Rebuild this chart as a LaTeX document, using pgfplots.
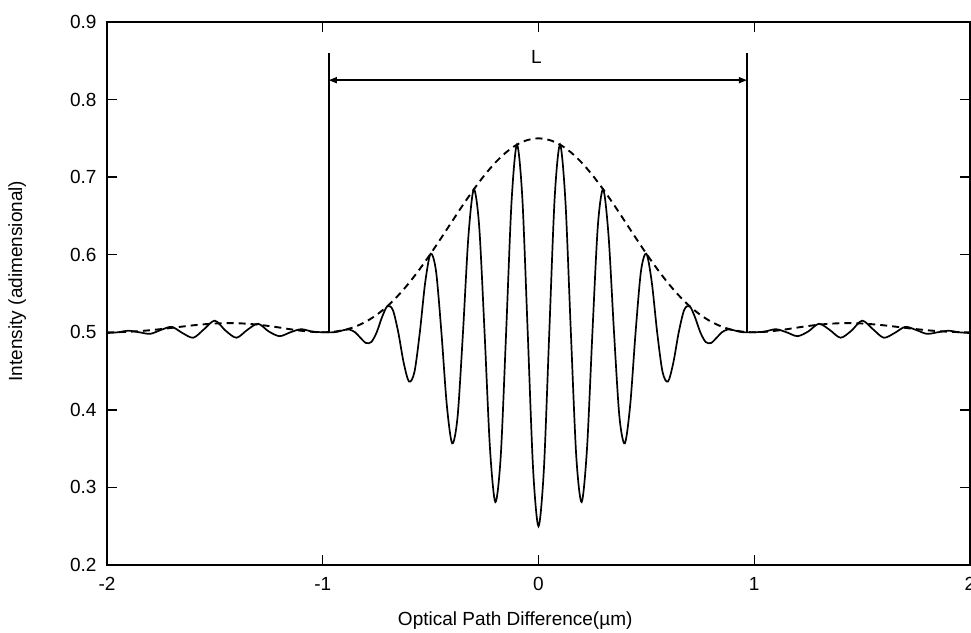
\documentclass[border=0pt]{standalone}
\usepackage{fontspec}
\setmainfont{Liberation Sans}
\usepackage{pgfplots}
\pgfplotsset{compat=1.18}
\usetikzlibrary{arrows.meta}
\begin{document}
\begin{tikzpicture}
\begin{axis}[name=ax, scale only axis, width=863pt, height=543pt,
  xmin=-2, xmax=2, ymin=0.2, ymax=0.9,
  xtick={-2,-1,0,1,2},
  ytick={0.2,0.3,0.4,0.5,0.6,0.7,0.8,0.9},
  tick align=inside, major tick length=10pt,
  axis line style={line width=1.5pt},
  every tick/.style={black, line width=1.3pt},
  /pgf/number format/assume math mode=true,
  yticklabel style={/pgf/number format/fixed, /pgf/number format/fixed zerofill, /pgf/number format/precision=1, xshift=-7pt},
  xticklabel style={yshift=-9pt},
  tick label style={font=\fontsize{19}{22}\selectfont},
  label style={font=\fontsize{19}{22}\selectfont},
  xlabel={Optical Path Difference(µm)},
  ylabel={Intensity (adimensional)},
  xlabel style={at={(axis description cs:0.473,-0.103)}, anchor=center},
  ylabel style={at={(axis description cs:-0.104,0.523)}, anchor=center},
  clip=false,
]
\addplot[black, line width=1.7pt, smooth] coordinates {
(-2.0,0.499)(-1.95,0.500)(-1.9,0.502)(-1.85,0.500)(-1.8,0.498)(-1.75,0.503)(-1.7,0.507)(-1.65,0.499)(-1.6,0.493)(-1.55,0.504)(-1.5,0.515)(-1.45,0.502)(-1.4,0.493)(-1.35,0.503)(-1.3,0.511)(-1.25,0.501)(-1.2,0.495)(-1.15,0.500)(-1.1,0.504)(-1.05,0.501)
(-1.0,0.5)(-0.975,0.4999)(-0.95,0.5)(-0.925,0.5011)(-0.9,0.503)(-0.875,0.5034)(-0.85,0.5)(-0.825,0.4928)(-0.8,0.4863)(-0.775,0.4874)(-0.75,0.5)(-0.725,0.5197)(-0.7,0.5338)(-0.675,0.5286)(-0.65,0.5)(-0.625,0.4609)(-0.6,0.4364)(-0.575,0.4488)(-0.55,0.5)(-0.525,0.5646)(-0.5,0.6013)(-0.475,0.5789)(-0.45,0.5)(-0.425,0.4062)(-0.4,0.3568)(-0.375,0.3913)(-0.35,0.5)(-0.325,0.6233)(-0.3,0.6842)(-0.275,0.6369)(-0.25,0.5)(-0.225,0.3508)(-0.2,0.2812)(-0.175,0.3403)(-0.15,0.5)(-0.125,0.6679)(-0.1,0.7419)(-0.075,0.6735)(-0.05,0.5)(-0.025,0.3236)
(0,0.25)
(0.025,0.3236)(0.05,0.5)(0.075,0.6735)(0.1,0.7419)(0.125,0.6679)(0.15,0.5)(0.175,0.3403)(0.2,0.2812)(0.225,0.3508)(0.25,0.5)(0.275,0.6369)(0.3,0.6842)(0.325,0.6233)(0.35,0.5)(0.375,0.3913)(0.4,0.3568)(0.425,0.4062)(0.45,0.5)(0.475,0.5789)(0.5,0.6013)(0.525,0.5646)(0.55,0.5)(0.575,0.4488)(0.6,0.4364)(0.625,0.4609)(0.65,0.5)(0.675,0.5286)(0.7,0.5338)(0.725,0.5197)(0.75,0.5)(0.775,0.4874)(0.8,0.4863)(0.825,0.4928)(0.85,0.5)(0.875,0.5034)(0.9,0.503)(0.925,0.5011)(0.95,0.5)(0.975,0.4999)(1.0,0.5)
(1.05,0.501)(1.1,0.504)(1.15,0.500)(1.2,0.495)(1.25,0.501)(1.3,0.511)(1.35,0.503)(1.4,0.493)(1.45,0.502)(1.5,0.515)(1.55,0.504)(1.6,0.493)(1.65,0.499)(1.7,0.507)(1.75,0.503)(1.8,0.498)(1.85,0.500)(1.9,0.502)(1.95,0.500)(2.0,0.499)
};
\addplot[black, line width=1.9pt, smooth, dash pattern=on 7pt off 5pt] coordinates {
(-2,0.5)(-1.95,0.5002)(-1.9,0.5007)(-1.85,0.5015)(-1.8,0.5027)(-1.75,0.5041)(-1.7,0.5057)(-1.65,0.5074)(-1.6,0.509)(-1.55,0.5103)(-1.5,0.5113)(-1.45,0.5118)(-1.4,0.5117)(-1.35,0.511)(-1.3,0.5098)(-1.25,0.5081)(-1.2,0.5061)(-1.15,0.5039)(-1.1,0.502)(-1.05,0.5006)(-1,0.5)(-0.95,0.5007)(-0.9,0.503)(-0.85,0.5072)(-0.8,0.5137)(-0.75,0.5225)(-0.7,0.5338)(-0.65,0.5476)(-0.6,0.5636)(-0.55,0.5817)(-0.5,0.6013)(-0.45,0.622)(-0.4,0.6432)(-0.35,0.6642)(-0.3,0.6842)(-0.25,0.7026)(-0.2,0.7188)(-0.15,0.732)(-0.1,0.7419)(-0.05,0.7479)(0,0.75)
(0.05,0.7479)(0.1,0.7419)(0.15,0.732)(0.2,0.7188)(0.25,0.7026)(0.3,0.6842)(0.35,0.6642)(0.4,0.6432)(0.45,0.622)(0.5,0.6013)(0.55,0.5817)(0.6,0.5636)(0.65,0.5476)(0.7,0.5338)(0.75,0.5225)(0.8,0.5137)(0.85,0.5072)(0.9,0.503)(0.95,0.5007)(1,0.5)(1.05,0.5006)(1.1,0.502)(1.15,0.5039)(1.2,0.5061)(1.25,0.5081)(1.3,0.5098)(1.35,0.511)(1.4,0.5117)(1.45,0.5118)(1.5,0.5113)(1.55,0.5103)(1.6,0.509)(1.65,0.5074)(1.7,0.5057)(1.75,0.5041)(1.8,0.5027)(1.85,0.5015)(1.9,0.5007)(1.95,0.5002)(2,0.5)
};
\addplot[black, line width=1.6pt] coordinates {(-0.972,0.5)(-0.972,0.86)};
\addplot[black, line width=1.6pt] coordinates {(0.966,0.5)(0.966,0.86)};
\draw[line width=1.4pt, {Triangle[length=8pt,width=6pt]}-{Triangle[length=8pt,width=6pt]}]
  (axis cs:-0.972,0.825) -- (axis cs:0.966,0.825);
\node[font=\fontsize{19}{22}\selectfont] at (axis cs:-0.01,0.855) {L};
\end{axis}
\pgfresetboundingbox
\path ([xshift=-107pt,yshift=-67pt]ax.south west) rectangle ([xshift=1pt,yshift=22pt]ax.north east);
\end{tikzpicture}
\end{document}
